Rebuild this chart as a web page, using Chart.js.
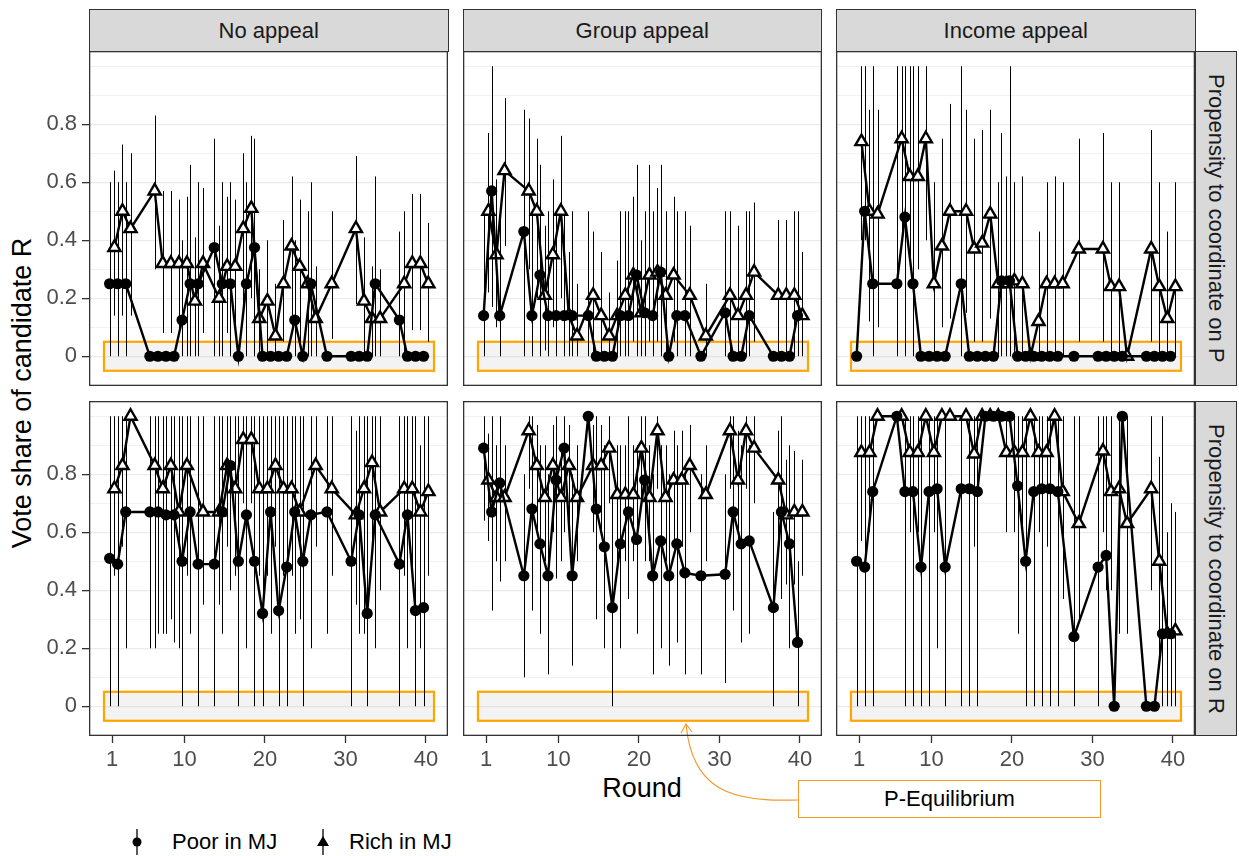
<!DOCTYPE html>
<html>
<head>
<meta charset="utf-8">
<script src="https://cdn.jsdelivr.net/npm/chart.js@4.4.1/dist/chart.umd.min.js"></script>
<style>
  body { margin: 0; background: #fff; font-family: "Liberation Sans", Arial, sans-serif; }
  #wrap { position: relative; width: 1239px; height: 856px; overflow: hidden; background: #fff; }
  .strip { position: absolute; box-sizing: border-box; background: #d9d9d9; border: 1.3px solid #333;
           color: #1a1a1a; font-size: 22px; display: flex; align-items: center; justify-content: center; }
  .strip.side { writing-mode: vertical-rl; }
  .title { position: absolute; color: #000; font-size: 27px; white-space: nowrap; }
  #ytitle { left: 22px; top: 393px; transform: translate(-50%, -50%) rotate(-90deg); }
  #xtitle { left: 642px; top: 788px; transform: translate(-50%, -50%); }
  .lg { position: absolute; top: 826px; height: 32px; line-height: 32px; font-size: 22px; color: #000; }
  #eqbox { position: absolute; left: 798px; top: 780px; width: 303px; height: 38px; box-sizing: border-box;
           border: 1.2px solid #f39a2b; background: #fff; font-size: 22px; display: flex;
           align-items: center; justify-content: center; color: #000; }
  #arrow { position: absolute; left: 0; top: 0; }
</style>
</head>
<body>
<div id="wrap">
  <div class="title" id="ytitle">Vote share of candidate R</div>
  <div class="title" id="xtitle">Round</div>
  <svg class="lg" style="left:120px" width="34" height="32"><line x1="17" y1="3" x2="17" y2="29" stroke="#000" stroke-width="1.3"/><circle cx="17" cy="16" r="4.5" fill="#000"/></svg>
  <div class="lg" style="left:172px">Poor in MJ</div>
  <svg class="lg" style="left:306px" width="34" height="32"><line x1="17" y1="3" x2="17" y2="29" stroke="#000" stroke-width="1.3"/><polygon points="17,10 23,20 11,20" fill="#000"/></svg>
  <div class="lg" style="left:349px">Rich in MJ</div>
  <svg id="arrow" width="1239" height="856">
    <path d="M798 800 C 730 802, 692 790, 686 724" fill="none" stroke="#f39a2b" stroke-width="1.2"/>
    <path d="M681 733 L686 724 L692 732" fill="none" stroke="#f39a2b" stroke-width="1.2"/>
  </svg>
  <div id="eqbox">P-Equilibrium</div>
</div>
<script>
// facet labels
const colLabels = ['No appeal', 'Group appeal', 'Income appeal'];
const rowLabels = ['Propensity to coordinate on P', 'Propensity to coordinate on R'];

// axis breaks
const roundTicks = [1, 10, 20, 30, 40];
const shareTicks = [0, 0.2, 0.4, 0.6, 0.8];
const shareGrid = [0, 0.1, 0.2, 0.3, 0.4, 0.5, 0.6, 0.7, 0.8, 0.9, 1.0];

// P-Equilibrium band (round span, share span)
const eqRounds = [0, 41];
const eqShare = [-0.05, 0.05];

// rows: [round, share, low, high]
const noAppealP_poor = [[1,0.25,0,0.6],[2,0.25,0,0.6],[3,0.25,0,0.6],[6,0,0,0],[7,0,0,0],[8,0,0,0],[9,0,0,0],[10,0.125,0,0.4],[11,0.25,0,0.66],[12,0.25,0,0.6],[14,0.375,0,0.75],[15,0.25,0,0.6],[16,0.25,0,0.6],[17,0,0,0],[18,0.25,0,0.6],[19,0.375,0,0.75],[20,0,0,0],[21,0,0,0],[22,0,0,0],[23,0,0,0],[24,0.125,0,0.4],[25,0,0,0],[26,0.25,0,0.6],[28,0,0,0],[31,0,0,0],[32,0,0,0],[33,0,0,0],[34,0.25,0,0.62],[37,0.125,0,0.43],[38,0,0,0],[39,0,0,0],[40,0,0,0]];
const noAppealP_rich = [[1,0.375,0.14,0.64],[2,0.5,0.14,0.73],[3,0.44,0.14,0.7],[6,0.57,0.3,0.83],[7,0.32,0.08,0.57],[8,0.32,0.08,0.57],[9,0.32,0.08,0.54],[10,0.32,0,0.55],[11,0.19,0,0.41],[12,0.32,0.08,0.58],[14,0.2,0,0.45],[15,0.31,0.08,0.55],[16,0.31,0.08,0.54],[17,0.44,0.14,0.7],[18,0.51,0.2,0.76],[19,0.13,0,0.3],[20,0.19,0,0.4],[21,0.07,0,0.25],[22,0.25,0.05,0.47],[23,0.38,0.1,0.62],[24,0.31,0.05,0.54],[25,0.25,0,0.5],[26,0.13,0,0.31],[28,0.25,0.06,0.5],[31,0.44,0.18,0.69],[32,0.19,0,0.41],[33,0.13,0,0.31],[34,0.13,0,0.3],[37,0.25,0,0.5],[38,0.32,0.09,0.56],[39,0.32,0.09,0.56],[40,0.25,0.05,0.46]];

const groupP_poor = [[1,0.14,0,0.5],[2,0.57,0.17,1.0],[3,0.14,0,0.5],[6,0.43,0,0.85],[7,0.14,0,0.5],[8,0.28,0,0.66],[9,0.14,0,0.5],[10,0.14,0,0.5],[11,0.14,0,0.5],[12,0.14,0,0.5],[14,0.14,0,0.5],[15,0,0,0],[16,0,0,0],[17,0,0,0],[18,0.14,0,0.5],[19,0.14,0,0.5],[20,0.28,0,0.66],[21,0.15,0,0.5],[22,0.14,0,0.5],[23,0.29,0,0.66],[24,0,0,0],[25,0.14,0,0.5],[26,0.14,0,0.5],[28,0,0,0],[31,0.15,0,0.5],[32,0,0,0],[33,0,0,0],[34,0.14,0,0.5],[37,0,0,0],[38,0,0,0],[39,0,0,0],[40,0.14,0,0.5]];
const groupP_rich = [[1,0.5,0.22,0.77],[2,0.35,0.1,0.61],[3,0.64,0.38,0.89],[6,0.57,0.3,0.82],[7,0.5,0.2,0.75],[8,0.21,0.02,0.45],[9,0.35,0.1,0.61],[10,0.5,0.2,0.76],[11,0.14,0,0.36],[12,0.07,0,0.25],[14,0.21,0,0.43],[15,0.14,0,0.36],[16,0.07,0,0.22],[17,0.14,0,0.33],[18,0.21,0,0.5],[19,0.28,0.05,0.55],[20,0.15,0,0.4],[21,0.28,0.05,0.66],[22,0.29,0.05,0.58],[23,0.21,0,0.5],[24,0.28,0.05,0.55],[26,0.21,0,0.45],[28,0.07,0,0.25],[31,0.21,0,0.5],[32,0.14,0,0.45],[33,0.21,0,0.5],[34,0.29,0.05,0.53],[37,0.21,0,0.47],[38,0.21,0,0.47],[39,0.21,0,0.5],[40,0.14,0,0.36]];

const incomeP_poor = [[1,0,0,0],[2,0.5,0.4,1.0],[3,0.25,0,1.0],[6,0.25,0,1.0],[7,0.48,0,1.0],[8,0.25,0,1.0],[9,0,0,0],[10,0,0,0],[11,0,0,0],[12,0,0,0],[14,0.25,0,1.0],[15,0,0,0],[16,0,0,0],[17,0,0,0],[18,0,0,0],[19,0.26,0,0.77],[20,0.26,0,1.0],[21,0,0,0],[22,0,0,0],[23,0,0,0],[24,0,0,0],[25,0,0,0],[26,0,0,0],[28,0,0,0],[31,0,0,0],[32,0,0,0],[33,0,0,0],[34,0,0,0],[37,0,0,0],[38,0,0,0],[39,0,0,0],[40,0,0,0]];
const incomeP_rich = [[1,0.74,0.4,1.0],[2,0.5,0.12,0.85],[3,0.49,0.1,0.85],[6,0.75,0.4,1.0],[7,0.62,0.3,1.0],[8,0.62,0.3,1.0],[9,0.75,0.4,1.0],[10,0.25,0,0.6],[11,0.38,0.1,0.75],[12,0.5,0.13,0.87],[14,0.5,0.15,0.85],[15,0.37,0.05,0.75],[16,0.39,0.05,0.78],[17,0.49,0.13,0.85],[18,0.25,0,0.6],[19,0.25,0,0.62],[20,0.26,0,0.6],[21,0.25,0,0.62],[22,0,0,0],[23,0.12,0,0.43],[24,0.25,0,0.6],[25,0.25,0,0.62],[26,0.25,0,0.6],[28,0.37,0.05,0.75],[31,0.37,0.05,0.77],[32,0.24,0,0.6],[33,0.24,0,0.6],[34,0,0,0],[37,0.37,0.05,0.78],[38,0.24,0,0.6],[39,0.13,0,0.43],[40,0.24,0,0.6]];

const noAppealR_poor = [[1,0.51,0,1.0],[2,0.49,0,1.0],[3,0.67,0.2,1.0],[6,0.67,0.2,1.0],[7,0.67,0.25,1.0],[8,0.66,0.25,1.0],[9,0.66,0.22,1.0],[10,0.5,0,1.0],[11,0.67,0.25,1.0],[12,0.49,0,1.0],[14,0.49,0,1.0],[15,0.67,0.25,1.0],[16,0.83,0.4,1.0],[17,0.5,0,1.0],[18,0.66,0.2,1.0],[19,0.5,0,1.0],[20,0.32,0,1.0],[21,0.67,0.25,1.0],[22,0.33,0,1.0],[23,0.48,0,1.0],[24,0.67,0.25,1.0],[25,0.5,0,1.0],[26,0.66,0.2,1.0],[28,0.67,0.25,1.0],[31,0.5,0,1.0],[32,0.66,0.25,1.0],[33,0.32,0,1.0],[34,0.66,0.2,1.0],[37,0.49,0,1.0],[38,0.66,0.2,1.0],[39,0.33,0,1.0],[40,0.34,0,1.0]];
const noAppealR_rich = [[1,0.75,0.45,1.0],[2,0.83,0.55,1.0],[3,1.0,1.0,1.0],[6,0.83,0.2,1.0],[7,0.75,0.25,1.0],[8,0.83,0.3,1.0],[9,0.67,0.2,1.0],[10,0.83,0.45,1.0],[12,0.67,0.35,1.0],[14,0.67,0.35,1.0],[15,0.83,0.55,1.0],[16,0.75,0.45,1.0],[17,0.92,0.7,1.0],[18,0.92,0.7,1.0],[19,0.75,0.45,1.0],[20,0.75,0.45,1.0],[21,0.83,0.55,1.0],[22,0.75,0.45,1.0],[23,0.75,0.45,1.0],[24,0.67,0.3,1.0],[26,0.83,0.55,1.0],[28,0.75,0.45,1.0],[31,0.66,0.35,0.95],[32,0.75,0.25,1.0],[33,0.84,0.55,1.0],[34,0.67,0.4,1.0],[37,0.75,0.45,1.0],[38,0.75,0.45,1.0],[39,0.67,0.2,0.9],[40,0.74,0.45,1.0]];

const groupR_poor = [[1,0.89,0.64,1.0],[2,0.67,0.33,1.0],[3,0.77,0.43,1.0],[6,0.45,0.1,0.8],[7,0.68,0.33,1.0],[8,0.56,0.25,0.9],[9,0.45,0.11,0.8],[10,0.78,0.44,1.0],[11,0.89,0.6,1.0],[12,0.45,0.14,0.8],[14,1.0,1.0,1.0],[15,0.68,0.3,1.0],[16,0.55,0.2,0.9],[17,0.34,0,0.72],[18,0.56,0.2,0.9],[19,0.67,0.37,1.0],[20,0.575,0.25,0.9],[21,0.78,0.5,1.0],[22,0.45,0.11,0.8],[23,0.57,0.2,0.9],[24,0.45,0.14,0.8],[25,0.56,0.22,0.9],[26,0.46,0.11,0.8],[28,0.45,0.11,0.8],[31,0.455,0.08,0.8],[32,0.67,0.33,1.0],[33,0.56,0.22,0.9],[34,0.57,0.25,0.9],[37,0.34,0,0.67],[38,0.67,0.37,1.0],[39,0.56,0.2,0.9],[40,0.22,0,0.5]];
const groupR_rich = [[1,0.78,0.57,0.94],[2,0.72,0.5,0.9],[3,0.72,0.5,0.9],[6,0.95,0.75,1.0],[7,0.83,0.6,0.97],[8,0.72,0.5,0.9],[9,0.83,0.6,0.97],[10,0.72,0.5,0.9],[11,0.83,0.6,0.97],[12,0.72,0.5,0.9],[14,0.83,0.6,0.97],[15,0.83,0.6,0.97],[16,0.89,0.7,1.0],[17,0.73,0.5,0.9],[18,0.73,0.5,0.9],[19,0.73,0.5,0.9],[20,0.89,0.7,1.0],[21,0.72,0.5,0.9],[22,0.95,0.75,1.0],[23,0.72,0.5,0.9],[24,0.78,0.55,0.95],[25,0.78,0.55,0.95],[26,0.83,0.6,0.97],[28,0.73,0.5,0.9],[31,0.95,0.75,1.0],[32,0.78,0.55,0.95],[33,0.95,0.75,1.0],[34,0.89,0.7,1.0],[37,0.78,0.55,0.95],[38,0.66,0.42,0.85],[39,0.67,0.42,0.88],[40,0.67,0.45,0.85]];

const incomeR_poor = [[1,0.5,0,1.0],[2,0.48,0,1.0],[3,0.74,0,1.0],[6,1.0,1.0,1.0],[7,0.74,0,1.0],[8,0.74,0,1.0],[9,0.48,0,1.0],[10,0.74,0,1.0],[11,0.75,0.2,1.0],[12,0.48,0,1.0],[14,0.75,0,1.0],[15,0.75,0,1.0],[16,0.74,0,1.0],[17,1.0,1.0,1.0],[18,1.0,1.0,1.0],[19,1.0,1.0,1.0],[20,1.0,1.0,1.0],[21,0.76,0.25,1.0],[22,0.5,0,1.0],[23,0.74,0,1.0],[24,0.75,0,1.0],[25,0.75,0,1.0],[26,0.74,0,1.0],[28,0.24,0,1.0],[31,0.48,0,1.0],[32,0.52,0.4,1.0],[33,0,0,0],[34,1.0,1.0,1.0],[37,0,0,0],[38,0,0,0],[39,0.25,0,1.0],[40,0.25,0,0.7]];
const incomeR_rich = [[1,0.875,0.57,1.0],[2,0.875,0.6,1.0],[3,1.0,1.0,1.0],[6,1.0,1.0,1.0],[7,0.875,0.6,1.0],[8,0.875,0.6,1.0],[9,1.0,1.0,1.0],[10,0.875,0.6,1.0],[11,1.0,1.0,1.0],[12,1.0,1.0,1.0],[14,1.0,1.0,1.0],[15,0.87,0.55,1.0],[16,1.0,1.0,1.0],[17,1.0,1.0,1.0],[18,1.0,1.0,1.0],[19,0.875,0.6,1.0],[20,0.875,0.6,1.0],[21,0.875,0.6,1.0],[22,1.0,1.0,1.0],[23,0.875,0.6,1.0],[24,0.875,0.55,1.0],[25,1.0,1.0,1.0],[26,0.74,0.37,1.0],[28,0.63,0.3,1.0],[31,0.88,0.6,1.0],[32,0.74,0.4,1.0],[33,0.75,0.25,1.0],[34,0.63,0.25,1.0],[37,0.75,0.4,1.0],[38,0.5,0.15,0.86],[39,0.25,0,0.6],[40,0.26,0,0.67]];

const panels = [
  { col: 0, row: 0, poor: noAppealP_poor, rich: noAppealP_rich },
  { col: 1, row: 0, poor: groupP_poor,    rich: groupP_rich },
  { col: 2, row: 0, poor: incomeP_poor,   rich: incomeP_rich },
  { col: 0, row: 1, poor: noAppealR_poor, rich: noAppealR_rich },
  { col: 1, row: 1, poor: groupR_poor,    rich: groupR_rich },
  { col: 2, row: 1, poor: incomeR_poor,   rich: incomeR_rich },
];

// layout (px)
const COL_X = [89, 462.5, 836];
const ROW_Y = [51, 401];
const PW = 359, PH = 335;
const DODGE = 0.3;
const wrap = document.getElementById('wrap');

// strips
colLabels.forEach((t, i) => {
  const d = document.createElement('div');
  d.className = 'strip';
  d.style.cssText = `left:${COL_X[i]}px;top:9px;width:${PW + 0.5}px;height:43px;`;
  d.textContent = t;
  wrap.appendChild(d);
});
rowLabels.forEach((t, i) => {
  const d = document.createElement('div');
  d.className = 'strip side';
  d.style.cssText = `left:${COL_X[2] + PW - 0.5}px;top:${ROW_Y[i]}px;width:42px;height:${PH}px;`;
  d.textContent = t;
  wrap.appendChild(d);
});

const toPoints = (rows, shift) => rows.map(r => ({ x: r[0] + shift, y: r[1], lo: r[2], hi: r[3] }));

// orange band + grey fill
const bandPlugin = {
  id: 'band',
  beforeDatasetsDraw(chart) {
    const { ctx, scales: { x, y } } = chart;
    const x0 = x.getPixelForValue(eqRounds[0]), x1 = x.getPixelForValue(eqRounds[1]);
    const y0 = y.getPixelForValue(eqShare[1]), y1 = y.getPixelForValue(eqShare[0]);
    ctx.save();
    ctx.fillStyle = 'rgba(190,190,190,0.18)';
    ctx.fillRect(x0, y0, x1 - x0, y1 - y0);
    ctx.strokeStyle = '#FFA500';
    ctx.lineWidth = 2.2;
    ctx.strokeRect(x0, y0, x1 - x0, y1 - y0);
    ctx.restore();
  }
};

// vertical ranges
const errPlugin = {
  id: 'errbars',
  beforeDatasetsDraw(chart) {
    const { ctx, scales: { x, y } } = chart;
    ctx.save();
    ctx.strokeStyle = '#000';
    ctx.lineWidth = 1;
    chart.data.datasets.forEach(ds => {
      ds.data.forEach(p => {
        if (p.hi <= p.lo) return;
        const px = Math.round(x.getPixelForValue(p.x)) + 0.5;
        ctx.beginPath();
        ctx.moveTo(px, y.getPixelForValue(p.lo));
        ctx.lineTo(px, y.getPixelForValue(p.hi));
        ctx.stroke();
      });
    });
    ctx.restore();
  }
};

const framePlugin = {
  id: 'frame',
  afterDraw(chart) {
    const { ctx, chartArea: a } = chart;
    ctx.save();
    ctx.strokeStyle = '#333';
    ctx.lineWidth = 1.3;
    ctx.strokeRect(a.left + 0.65, a.top + 0.65, a.right - a.left - 1.3, a.bottom - a.top - 1.3);
    ctx.restore();
  }
};

panels.forEach(p => {
  const left = p.col === 0, bottom = p.row === 1;
  const padL = left ? 62 : 0, padB = bottom ? 40 : 0;
  const cv = document.createElement('canvas');
  cv.width = PW + padL;
  cv.height = PH + padB;
  cv.style.cssText = `position:absolute;left:${COL_X[p.col] - padL}px;top:${ROW_Y[p.row]}px;`;
  wrap.appendChild(cv);

  new Chart(cv, {
    type: 'line',
    data: {
      datasets: [
        { label: 'Poor in MJ', data: toPoints(p.poor, -DODGE), borderColor: '#000', borderWidth: 2.4,
          pointStyle: 'circle', pointRadius: 5.6, pointBackgroundColor: '#000', pointBorderColor: '#000',
          pointBorderWidth: 0, tension: 0 },
        { label: 'Rich in MJ', data: toPoints(p.rich, DODGE), borderColor: '#000', borderWidth: 2.4,
          pointStyle: 'triangle', pointRadius: 7, pointBackgroundColor: '#fff', pointBorderColor: '#000',
          pointBorderWidth: 2.4, tension: 0 }
      ]
    },
    options: {
      responsive: false,
      animation: false,
      devicePixelRatio: 1,
      events: [],
      layout: { padding: 0, autoPadding: false },
      plugins: { legend: { display: false }, tooltip: { enabled: false } },
      scales: {
        x: {
          type: 'linear', min: -1.86, max: 42.74,
          afterBuildTicks: s => { s.ticks = roundTicks.map(v => ({ value: v })); },
          afterFit: s => { s.height = padB; s.paddingLeft = s.paddingRight = s.paddingTop = s.paddingBottom = 0; },
          ticks: { display: bottom, color: '#4d4d4d', font: { size: 22, family: 'Liberation Sans' },
                   padding: 4, maxRotation: 0, autoSkip: false, callback: v => String(v) },
          grid: { display: bottom, drawOnChartArea: false, drawTicks: bottom, tickLength: 7,
                  tickColor: '#333', tickWidth: 1.3 },
          border: { display: false }
        },
        y: {
          type: 'linear', min: -0.1025, max: 1.0525,
          afterBuildTicks: s => { s.ticks = shareGrid.map(v => ({ value: v })); },
          afterFit: s => { s.width = padL; s.paddingLeft = s.paddingRight = s.paddingTop = s.paddingBottom = 0; },
          ticks: { display: left, color: '#4d4d4d', font: { size: 22, family: 'Liberation Sans' }, padding: 5,
                   autoSkip: false, callback: v => shareTicks.includes(v) ? String(v) : '' },
          grid: { color: '#ebebeb',
                  lineWidth: c => shareTicks.includes(c.tick.value) ? 1.3 : 0.7,
                  drawTicks: left, tickLength: 7, tickWidth: 1.3,
                  tickColor: c => shareTicks.includes(c.tick.value) ? '#333' : 'rgba(0,0,0,0)' },
          border: { display: false }
        }
      }
    },
    plugins: [bandPlugin, errPlugin, framePlugin]
  });
});
</script>
</body>
</html>
